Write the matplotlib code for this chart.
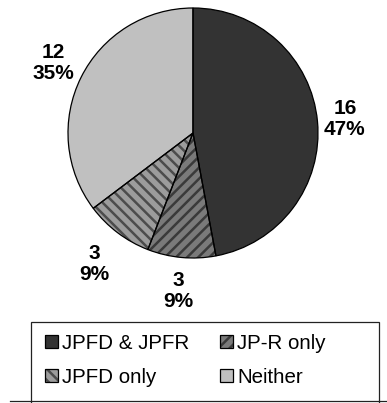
import matplotlib
matplotlib.use("Agg")
import matplotlib.pyplot as plt
from matplotlib.patches import Patch, Rectangle
from matplotlib.lines import Line2D
from matplotlib.legend_handler import HandlerTuple
import numpy as np

plt.rcParams['font.family'] = ['Liberation Sans', 'DejaVu Sans']
plt.rcParams['hatch.linewidth'] = 1.8

categories = ["JPFD & JPFR", "JP-R only", "JPFD only", "Neither"]
counts = [16, 3, 3, 12]

face_colors = ["#333333", "#7a7a7a", "#9c9c9c", "#c0c0c0"]
hatch_colors = ["#333333", "#3a3a3a", "#4c4c4c", "#c0c0c0"]
hatches = [None, "///", "\\\\\\", None]
label_dist = [1.22, 1.27, 1.31, 1.25]

W, H = 387, 403
fig = plt.figure(figsize=(W / 100, H / 100), dpi=100)

# pie axes: centre (193, 133) px, radius 125 px
cx, cy, r = 193, 133, 125
ax = fig.add_axes([(cx - r) / W, (H - cy - r) / H, 2 * r / W, 2 * r / H])

# filled / hatched wedges
wedges, _ = ax.pie(counts, startangle=90, counterclock=False,
                   colors=face_colors, radius=1.0,
                   wedgeprops=dict(linewidth=0))
for w, hc, hp in zip(wedges, hatch_colors, hatches):
    w.set_edgecolor(hc)
    if hp:
        w.set_hatch(hp)

# black outlines on top
outline, _ = ax.pie(counts, startangle=90, counterclock=False, radius=1.0,
                    wedgeprops=dict(facecolor="none", edgecolor="black",
                                    linewidth=0.9))

total = sum(counts)
for w, n, d in zip(wedges, counts, label_dist):
    ang = np.deg2rad((w.theta1 + w.theta2) / 2)
    ax.text(d * np.cos(ang), d * np.sin(ang),
            f"{n}\n{round(100 * n / total)}%",
            ha="center", va="center", fontsize=15, fontweight="bold",
            linespacing=1.15)

ax.set_xlim(-1, 1)
ax.set_ylim(-1, 1)
ax.set_aspect("equal")
ax.axis("off")

# legend (column-wise order: col 1 then col 2)
def handle(i):
    return (Patch(facecolor=face_colors[i], edgecolor=hatch_colors[i],
                  hatch=hatches[i], linewidth=0),
            Patch(facecolor="none", edgecolor="black", linewidth=0.9))

order = [0, 2, 1, 3]
leg = fig.legend([handle(i) for i in order], [categories[i] for i in order],
                 handler_map={tuple: HandlerTuple(ndivide=1)},
                 ncols=2, loc="upper left",
                 bbox_to_anchor=(45 / W, 1 - 334 / H),
                 bbox_transform=fig.transFigure,
                 frameon=False, borderpad=0, borderaxespad=0,
                 fontsize=14.8, handlelength=0.65, handleheight=0.6,
                 handletextpad=0.2, columnspacing=1.45, labelspacing=0.72)

# legend frame (running past the bottom edge) and baseline rule
fig.add_artist(Rectangle((31 / W, -10 / H), (379 - 31) / W, (413 - 322) / H,
                         transform=fig.transFigure, facecolor="none",
                         edgecolor="#222222", linewidth=0.9))
fig.add_artist(Line2D([10 / W, 1.0], [1 - 401 / H, 1 - 401 / H],
                      transform=fig.transFigure, color="#222222", linewidth=0.9))

fig.savefig("out.png", dpi=100)
